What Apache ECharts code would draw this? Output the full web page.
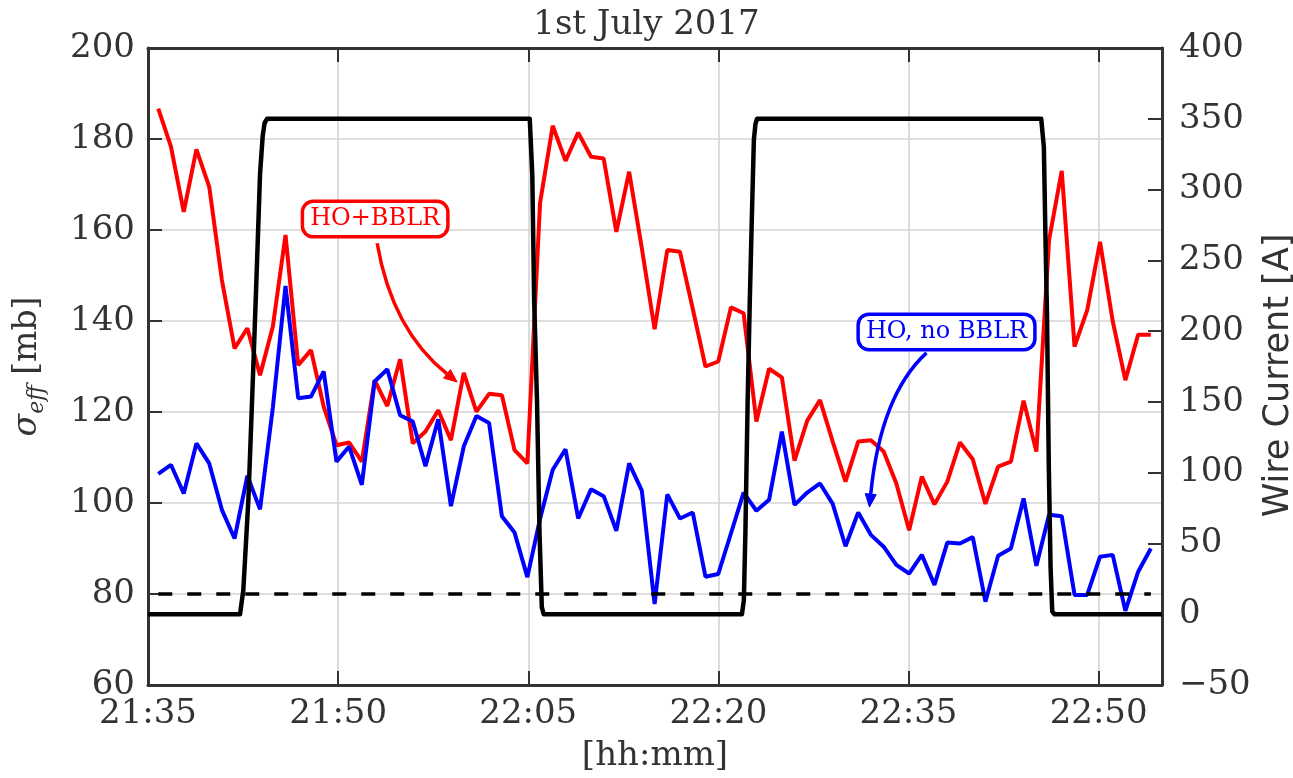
<!DOCTYPE html>
<html>
<head>
<meta charset="utf-8">
<script src="https://cdn.jsdelivr.net/npm/echarts@6/dist/echarts.min.js"></script>
<style>
  html, body { margin: 0; padding: 0; background: #fff; }
  #chart { width: 1293px; height: 778px; }
</style>
</head>
<body>
<div id="chart"></div>
<script>
// Sample times, in minutes after 21:35
const sampleMinutes = [0.81, 1.81, 2.82, 3.82, 4.83, 5.83, 6.83, 7.84, 8.84, 9.85,
  10.85, 11.85, 12.86, 13.86, 14.87, 15.87, 16.87, 17.88, 18.88, 19.89,
  20.89, 21.89, 22.90, 23.90, 24.91, 25.91, 26.91, 27.92, 28.92, 29.93,
  30.93, 31.93, 32.94, 33.94, 34.95, 35.95, 36.95, 37.96, 38.96, 39.97,
  40.97, 41.97, 42.98, 43.98, 44.99, 45.99, 46.99, 48.00, 49.00, 50.01,
  51.01, 52.01, 53.02, 54.02, 55.03, 56.03, 57.03, 58.04, 59.04, 60.05,
  61.05, 62.05, 63.06, 64.06, 65.07, 66.07, 67.07, 68.08, 69.08, 70.09,
  71.09, 72.09, 73.10, 74.10, 75.11, 76.11, 77.11, 78.12, 79.12];

// Effective cross-section [mb], head-on + beam-beam long-range
const sigmaHoBblr = [186.7, 178.3, 164.0, 177.7, 169.5, 149.0, 134.0, 138.4, 128.1, 138.8,
  158.9, 130.3, 133.6, 121.2, 112.7, 113.3, 109.1, 127.0, 121.3, 131.6,
  113.1, 115.7, 120.4, 113.8, 128.6, 120.1, 124.0, 123.7, 111.6, 108.7,
  165.9, 182.9, 175.2, 181.4, 176.1, 175.7, 159.6, 172.8, 156.0, 138.2,
  155.6, 155.2, 142.7, 130.0, 131.1, 143.0, 141.7, 117.9, 129.5, 127.6,
  109.3, 118.1, 122.6, 113.5, 104.7, 113.5, 113.8, 111.3, 104.3, 94.0,
  105.8, 99.7, 104.7, 113.3, 109.6, 99.8, 108.0, 109.1, 122.5, 111.3,
  157.8, 173.0, 134.4, 142.4, 157.4, 140.0, 127.0, 137.0, 137.0];

// Effective cross-section [mb], head-on only
const sigmaHoOnly = [106.4, 108.4, 102.1, 113.1, 108.7, 98.5, 92.2, 106.0, 98.6, 121.0,
  147.7, 123.0, 123.4, 128.9, 109.1, 112.4, 104.0, 126.7, 129.4, 119.3,
  117.9, 108.1, 118.4, 99.3, 112.4, 119.1, 117.6, 97.1, 93.5, 83.7,
  96.5, 107.3, 111.8, 96.6, 103.0, 101.5, 93.9, 108.7, 102.7, 77.8,
  101.9, 96.6, 97.9, 83.8, 84.4, 93.3, 102.3, 98.3, 100.7, 115.7,
  99.6, 102.3, 104.3, 99.8, 90.5, 97.9, 93.0, 90.4, 86.4, 84.5,
  88.6, 82.0, 91.3, 91.1, 92.5, 78.3, 88.4, 90.0, 101.0, 86.2,
  97.4, 97.1, 79.8, 79.8, 88.2, 88.6, 76.3, 84.9, 90.0];

// Wire current [A]
const wireMinutes = [0, 7.26, 7.52, 7.92, 8.31, 8.53, 8.84, 9.05, 9.20, 9.40,
  30.12, 30.32, 30.47, 30.69, 30.89, 31.07, 31.22,
  46.86, 47.01, 47.13, 47.31, 47.48, 47.64, 47.80, 47.92, 48.05,
  70.47, 70.68, 70.81, 70.93, 71.07, 71.21, 71.34, 71.52, 80];
const wireCurrent = [0, 0, 17, 81, 175, 230, 311, 338, 347, 350,
  350, 310, 220, 151, 57, 5, 0,
  0, 10, 57, 151, 222, 280, 335, 346, 350,
  350, 330, 264, 210, 104, 33, 2, 0, 0];

// Inelastic reference cross-section [mb]
const referenceSigma = 80;

// Axis ranges and tick steps
const timeRange = [0, 80, 15];
const sigmaRange = [60, 200, 20];
const currentRange = [-50, 400, 50];
const startClock = 21 * 60 + 35;

// Annotations, anchored in (minutes, sigma) coordinates
const notes = [
  { text: 'HO+BBLR', color: '#ff0000', label: [17.92, 162.4], from: [18.08, 157.1], ctrl: [19.26, 138.0], to: [24.39, 126.6] },
  { text: 'HO, no BBLR', color: '#0000ff', label: [63.0, 137.6], from: [61.42, 133.0], ctrl: [57.79, 123.7], to: [56.92, 99.1] }
];

const SERIF = '"DejaVu Serif", serif';
const SANS = '"DejaVu Sans", sans-serif';
const INK = '#333333';
const GRID = '#d4d4d4';

function clock(m) {
  const t = startClock + Math.round(m);
  return Math.floor(t / 60) + ':' + String(t % 60).padStart(2, '0');
}
function pairs(xs, ys) { return xs.map((x, i) => [x, ys[i]]); }

const chart = echarts.init(document.getElementById('chart'), null, { renderer: 'canvas' });

const tickStyle = { show: true, inside: true, length: 14, lineStyle: { color: INK, width: 2 } };
const frameLine = { show: true, onZero: false, lineStyle: { color: INK, width: 3 } };

chart.setOption({
  animation: false,
  backgroundColor: '#ffffff',
  title: {
    text: '1st July 2017', left: 'center', top: 3,
    textStyle: { fontFamily: SERIF, fontWeight: 'normal', fontSize: 34, color: INK }
  },
  grid: { left: 148, right: 131, top: 48, bottom: 93, containLabel: false, outerBoundsMode: 'none' },
  xAxis: [
    {
      type: 'value', position: 'bottom',
      min: timeRange[0], max: timeRange[1], interval: timeRange[2],
      axisLine: frameLine, axisTick: tickStyle,
      axisLabel: { formatter: clock, fontFamily: SERIF, fontSize: 34, color: INK, margin: 12 },
      splitLine: { show: true, lineStyle: { color: GRID, width: 1.6 } },
      name: '[hh:mm]', nameLocation: 'middle', nameGap: 54,
      nameTextStyle: { fontFamily: SERIF, fontSize: 34, color: INK }
    },
    {
      type: 'value', position: 'top',
      min: timeRange[0], max: timeRange[1], interval: timeRange[2],
      axisLine: frameLine, axisTick: tickStyle,
      axisLabel: { show: false }, splitLine: { show: false }
    }
  ],
  yAxis: [
    {
      type: 'value', position: 'left',
      min: sigmaRange[0], max: sigmaRange[1], interval: sigmaRange[2],
      axisLine: frameLine, axisTick: tickStyle,
      axisLabel: { fontFamily: SERIF, fontSize: 34, color: INK, margin: 13 },
      splitLine: { show: true, lineStyle: { color: GRID, width: 1.6 } },
      name: '{s|σ}{sub|eff}{n|\u00a0[mb]}', nameLocation: 'middle', nameRotate: 90, nameGap: 100,
      nameTextStyle: {
        color: INK,
        rich: {
          s: { fontFamily: SERIF, fontStyle: 'italic', fontSize: 33, color: INK, lineHeight: 42 },
          sub: { fontFamily: SERIF, fontStyle: 'italic', fontSize: 22, color: INK, lineHeight: 22, verticalAlign: 'bottom' },
          n: { fontFamily: SERIF, fontSize: 33, color: INK, lineHeight: 42 }
        }
      }
    },
    {
      type: 'value', position: 'right',
      min: currentRange[0], max: currentRange[1], interval: currentRange[2],
      axisLine: frameLine, axisTick: tickStyle,
      axisLabel: {
        fontFamily: SERIF, fontSize: 34, color: INK, margin: 17,
        formatter: v => (v < 0 ? '\u2212' + Math.abs(v) : String(v))
      },
      splitLine: { show: false },
      name: 'Wire Current [A]', nameLocation: 'middle', nameRotate: 90, nameGap: 96,
      nameTextStyle: { fontFamily: SANS, fontSize: 35, color: INK, padding: [0, 18, 0, 0] }
    }
  ],
  series: [
    {
      name: 'HO+BBLR', type: 'line', xAxisIndex: 0, yAxisIndex: 0,
      data: pairs(sampleMinutes, sigmaHoBblr), showSymbol: false, z: 3,
      lineStyle: { color: '#ff0000', width: 4 }
    },
    {
      name: 'HO, no BBLR', type: 'line', xAxisIndex: 0, yAxisIndex: 0,
      data: pairs(sampleMinutes, sigmaHoOnly), showSymbol: false, z: 4,
      lineStyle: { color: '#0000ff', width: 4 }
    },
    {
      name: 'reference', type: 'line', xAxisIndex: 0, yAxisIndex: 0,
      data: [[sampleMinutes[0], referenceSigma], [sampleMinutes[sampleMinutes.length - 1], referenceSigma]],
      showSymbol: false, z: 5,
      lineStyle: { color: '#000000', width: 3.5, type: [14, 15] }
    },
    {
      name: 'Wire Current', type: 'line', xAxisIndex: 0, yAxisIndex: 1,
      data: pairs(wireMinutes, wireCurrent), showSymbol: false, z: 6,
      lineStyle: { color: '#000000', width: 4.5, join: 'round' }
    }
  ]
});

// Boxed labels with curved arrows pointing at the curves
function px(p) { return chart.convertToPixel({ xAxisIndex: 0, yAxisIndex: 0 }, p); }
const graphics = [];
notes.forEach(n => {
  const a = px(n.from), c = px(n.ctrl), b = px(n.to), t = px(n.label);
  const dx = b[0] - c[0], dy = b[1] - c[1], len = Math.hypot(dx, dy);
  const ux = dx / len, uy = dy / len, head = 13, half = 5.5;
  const bx = b[0] - ux * head, by = b[1] - uy * head;
  graphics.push({
    type: 'bezierCurve', z: 20,
    shape: { x1: a[0], y1: a[1], cpx1: c[0], cpy1: c[1], x2: bx, y2: by },
    style: { stroke: n.color, lineWidth: 3.5, fill: null }
  });
  graphics.push({
    type: 'polygon', z: 20,
    shape: { points: [[b[0], b[1]], [bx - uy * half, by + ux * half], [bx + uy * half, by - ux * half]] },
    style: { fill: n.color, stroke: n.color, lineWidth: 1 }
  });
  graphics.push({
    type: 'text', z: 21, x: t[0], y: t[1],
    style: {
      text: n.text, fill: n.color, font: '24px ' + SERIF,
      align: 'center', verticalAlign: 'middle',
      backgroundColor: '#ffffff', borderColor: n.color, borderWidth: 3.5, borderRadius: 9,
      padding: [3, 6], lineHeight: 26
    }
  });
});
chart.setOption({ graphic: graphics });
</script>
</body>
</html>
